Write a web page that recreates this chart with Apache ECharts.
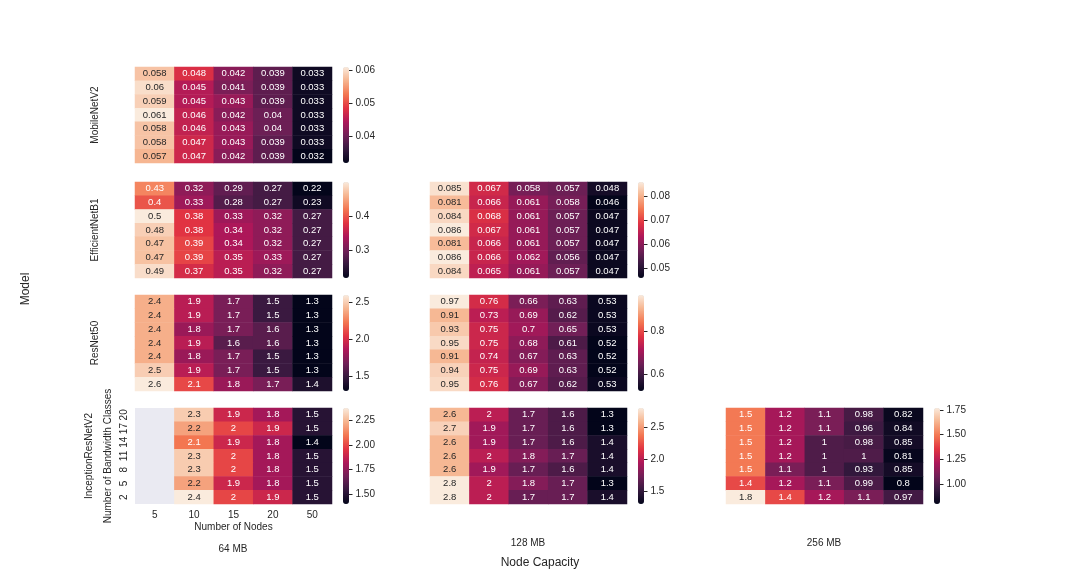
<!DOCTYPE html>
<html>
<head>
<meta charset="utf-8">
<title>Heatmaps by model and node capacity</title>
<script src="https://cdn.jsdelivr.net/npm/echarts@6/dist/echarts.min.js"></script>
<style>
html, body { margin: 0; padding: 0; background: #fff; }
#main { width: 1080px; height: 576px; }
</style>
</head>
<body>
<div id="main"></div>
<script>
// categories
var nodes = ['5', '10', '15', '20', '50'];
var bandwidthClasses = ['20', '17', '14', '11', '8', '5', '2'];
var models = ['MobileNetV2', 'EfficientNetB1', 'ResNet50', 'InceptionResNetV2'];
var capacities = ['64 MB', '128 MB', '256 MB'];

// values, rows = bandwidth classes (20 at top), columns = nodes
var mobile64 = [
    [0.058, 0.048, 0.042, 0.039, 0.033],
    [0.06, 0.045, 0.041, 0.039, 0.033],
    [0.059, 0.045, 0.043, 0.039, 0.033],
    [0.061, 0.046, 0.042, 0.04, 0.033],
    [0.058, 0.046, 0.043, 0.04, 0.033],
    [0.058, 0.047, 0.043, 0.039, 0.033],
    [0.057, 0.047, 0.042, 0.039, 0.032]
];
var effnet64 = [
    [0.43, 0.32, 0.29, 0.27, 0.22],
    [0.4, 0.33, 0.28, 0.27, 0.23],
    [0.5, 0.38, 0.33, 0.32, 0.27],
    [0.48, 0.38, 0.34, 0.32, 0.27],
    [0.47, 0.39, 0.34, 0.32, 0.27],
    [0.47, 0.39, 0.35, 0.33, 0.27],
    [0.49, 0.37, 0.35, 0.32, 0.27]
];
var effnet128 = [
    [0.085, 0.067, 0.058, 0.057, 0.048],
    [0.081, 0.066, 0.061, 0.058, 0.046],
    [0.084, 0.068, 0.061, 0.057, 0.047],
    [0.086, 0.067, 0.061, 0.057, 0.047],
    [0.081, 0.066, 0.061, 0.057, 0.047],
    [0.086, 0.066, 0.062, 0.056, 0.047],
    [0.084, 0.065, 0.061, 0.057, 0.047]
];
var resnet64 = [
    [2.4, 1.9, 1.7, 1.5, 1.3],
    [2.4, 1.9, 1.7, 1.5, 1.3],
    [2.4, 1.8, 1.7, 1.6, 1.3],
    [2.4, 1.9, 1.6, 1.6, 1.3],
    [2.4, 1.8, 1.7, 1.5, 1.3],
    [2.5, 1.9, 1.7, 1.5, 1.3],
    [2.6, 2.1, 1.8, 1.7, 1.4]
];
var resnet128 = [
    [0.97, 0.76, 0.66, 0.63, 0.53],
    [0.91, 0.73, 0.69, 0.62, 0.53],
    [0.93, 0.75, 0.7, 0.65, 0.53],
    [0.95, 0.75, 0.68, 0.61, 0.52],
    [0.91, 0.74, 0.67, 0.63, 0.52],
    [0.94, 0.75, 0.69, 0.63, 0.52],
    [0.95, 0.76, 0.67, 0.62, 0.53]
];
var inception64 = [
    [null, 2.3, 1.9, 1.8, 1.5],
    [null, 2.2, 2, 1.9, 1.5],
    [null, 2.1, 1.9, 1.8, 1.4],
    [null, 2.3, 2, 1.8, 1.5],
    [null, 2.3, 2, 1.8, 1.5],
    [null, 2.2, 1.9, 1.8, 1.5],
    [null, 2.38, 2, 1.9, 1.5]
];
var inception128 = [
    [2.6, 2, 1.7, 1.6, 1.3],
    [2.7, 1.9, 1.7, 1.6, 1.3],
    [2.6, 1.9, 1.7, 1.6, 1.4],
    [2.6, 2, 1.8, 1.7, 1.4],
    [2.6, 1.9, 1.7, 1.6, 1.4],
    [2.8, 2, 1.8, 1.7, 1.3],
    [2.8, 2, 1.7, 1.7, 1.4]
];
var inception256 = [
    [1.5, 1.2, 1.1, 0.98, 0.82],
    [1.5, 1.2, 1.1, 0.96, 0.84],
    [1.5, 1.2, 1, 0.98, 0.85],
    [1.5, 1.2, 1, 1, 0.81],
    [1.5, 1.1, 1, 0.93, 0.85],
    [1.4, 1.2, 1.1, 0.99, 0.8],
    [1.77, 1.4, 1.2, 1.1, 0.97]
];

// colorbar tick labels
var ticksMobile64 = ['0.04', '0.05', '0.06'];
var ticksEffnet64 = ['0.3', '0.4'];
var ticksEffnet128 = ['0.05', '0.06', '0.07', '0.08'];
var ticksResnet64 = ['1.5', '2.0', '2.5'];
var ticksResnet128 = ['0.6', '0.8'];
var ticksInception64 = ['1.50', '1.75', '2.00', '2.25'];
var ticksInception128 = ['1.5', '2.0', '2.5'];
var ticksInception256 = ['1.00', '1.25', '1.50', '1.75'];

// seaborn "rocket"
var rocket = ['#03051a', '#35193e', '#701f57', '#ad1759', '#e13342', '#f37651', '#f6b48f', '#faebdd'];
var textDark = '#262626';
var font = 'Liberation Sans, Arial, sans-serif';

var panels = [
    { data: mobile64, ticks: ticksMobile64, row: 0, col: 0 },
    { data: effnet64, ticks: ticksEffnet64, row: 1, col: 0 },
    { data: effnet128, ticks: ticksEffnet128, row: 1, col: 1 },
    { data: resnet64, ticks: ticksResnet64, row: 2, col: 0 },
    { data: resnet128, ticks: ticksResnet128, row: 2, col: 1 },
    { data: inception64, ticks: ticksInception64, row: 3, col: 0 },
    { data: inception128, ticks: ticksInception128, row: 3, col: 1 },
    { data: inception256, ticks: ticksInception256, row: 3, col: 2 }
];

var colLeft = [135, 430, 726];
var rowTop = [67, 182, 295, 408];
var mapW = 197, mapH = 96, barOffset = 208, barW = 6;

function hexRgb(h) {
    return [parseInt(h.substr(1, 2), 16), parseInt(h.substr(3, 2), 16), parseInt(h.substr(5, 2), 16)];
}
function rocketAt(t) {
    t = Math.max(0, Math.min(1, t));
    var s = t * (rocket.length - 1);
    var i = Math.min(Math.floor(s), rocket.length - 2);
    var f = s - i;
    var a = hexRgb(rocket[i]), b = hexRgb(rocket[i + 1]);
    return a.map(function (c, k) { return c + (b[k] - c) * f; });
}
function luminance(rgb) {
    var l = rgb.map(function (c) {
        c = c / 255;
        return c <= 0.03928 ? c / 12.92 : Math.pow((c + 0.055) / 1.055, 2.4);
    });
    return 0.2126 * l[0] + 0.7152 * l[1] + 0.0722 * l[2];
}

var grids = [], xAxes = [], yAxes = [], series = [], visualMaps = [];

panels.forEach(function (p, i) {
    var flat = [];
    p.data.forEach(function (r) { r.forEach(function (v) { if (v !== null) flat.push(v); }); });
    var vmin = Math.min.apply(null, flat), vmax = Math.max.apply(null, flat);
    var left = colLeft[p.col], top = rowTop[p.row];
    var isCorner = p.row === 3 && p.col === 0;
    var gi = grids.length;

    // heatmap grid
    grids.push({
        left: left, top: top, width: mapW, height: mapH,
        show: isCorner, backgroundColor: '#eaeaf2', borderWidth: 0
    });
    xAxes.push({
        type: 'category', gridIndex: gi, data: nodes,
        axisLine: { show: false }, axisTick: { show: false }, splitLine: { show: false },
        axisLabel: { show: isCorner, interval: 0, color: textDark, fontSize: 10, margin: 6, fontFamily: font },
        name: isCorner ? 'Number of Nodes' : '', nameLocation: 'middle', nameGap: 18,
        nameTextStyle: { color: textDark, fontSize: 10, fontFamily: font }
    });
    var yName = '';
    if (p.col === 0) yName = isCorner ? models[3] + '\nNumber of Bandwidth Classes' : models[p.row];
    yAxes.push({
        type: 'category', gridIndex: gi, data: bandwidthClasses, inverse: true,
        axisLine: { show: false }, axisTick: { show: false }, splitLine: { show: false },
        axisLabel: { show: isCorner, interval: 0, rotate: 90, color: textDark, fontSize: 10, margin: 6, fontFamily: font },
        name: yName, nameLocation: 'middle', nameGap: isCorner ? 16 : 34,
        nameTextStyle: { color: textDark, fontSize: 10, fontFamily: font, lineHeight: isCorner ? 19 : 12 }
    });

    var items = [];
    p.data.forEach(function (r, yi) {
        r.forEach(function (v, xi) {
            if (v === null) return;
            var lum = luminance(rocketAt((v - vmin) / (vmax - vmin)));
            items.push({ value: [xi, yi, v], label: { color: lum > 0.408 ? textDark : '#ffffff' } });
        });
    });
    series.push({
        type: 'heatmap', xAxisIndex: gi, yAxisIndex: gi, data: items,
        itemStyle: { borderWidth: 0 },
        label: {
            show: true, fontSize: 9.5, fontFamily: font,
            formatter: function (q) { return String(+q.value[2].toPrecision(2)); }
        },
        emphasis: { disabled: true }
    });
    visualMaps.push({
        type: 'continuous', seriesIndex: series.length - 1, dimension: 2,
        min: vmin, max: vmax, inRange: { color: rocket },
        show: true, calculable: false, hoverLink: false, realtime: false,
        orient: 'vertical', left: left + barOffset, top: top,
        itemWidth: barW, itemHeight: mapH, padding: 0, text: null
    });

    // colorbar tick axis
    var tickVals = p.ticks.map(parseFloat);
    grids.push({ left: left + barOffset, top: top, width: barW, height: mapH, show: false });
    xAxes.push({ type: 'category', gridIndex: gi + 1, data: [''], show: false });
    yAxes.push({
        type: 'value', gridIndex: gi + 1, position: 'right', min: vmin, max: vmax,
        axisLine: { show: false }, splitLine: { show: false },
        axisTick: { show: true, customValues: tickVals, length: 3.5, lineStyle: { color: textDark, width: 1 } },
        axisLabel: {
            show: true, customValues: tickVals, margin: 6.5, color: textDark, fontSize: 10, fontFamily: font,
            formatter: function (v) {
                for (var k = 0; k < p.ticks.length; k++) {
                    if (Math.abs(tickVals[k] - v) < 1e-9) return p.ticks[k];
                }
                return '';
            }
        }
    });
});

var chart = echarts.init(document.getElementById('main'));
chart.setOption({
    animation: false,
    textStyle: { fontFamily: font },
    grid: grids,
    xAxis: xAxes,
    yAxis: yAxes,
    visualMap: visualMaps,
    series: series,
    graphic: [
        { type: 'text', x: 233, y: 549, style: { text: capacities[0], fill: textDark, font: '10px ' + font, textAlign: 'center', textVerticalAlign: 'middle' } },
        { type: 'text', x: 528, y: 543, style: { text: capacities[1], fill: textDark, font: '10px ' + font, textAlign: 'center', textVerticalAlign: 'middle' } },
        { type: 'text', x: 824, y: 543, style: { text: capacities[2], fill: textDark, font: '10px ' + font, textAlign: 'center', textVerticalAlign: 'middle' } },
        { type: 'text', x: 540, y: 563, style: { text: 'Node Capacity', fill: textDark, font: '12px ' + font, textAlign: 'center', textVerticalAlign: 'middle' } },
        { type: 'text', x: 26, y: 289, rotation: Math.PI / 2, style: { text: 'Model', fill: textDark, font: '12px ' + font, textAlign: 'center', textVerticalAlign: 'middle' } }
    ]
});

window.addEventListener('resize', function () {
    if (chart != null && chart != undefined) {
        chart.resize();
    }
});
</script>
</body>
</html>
